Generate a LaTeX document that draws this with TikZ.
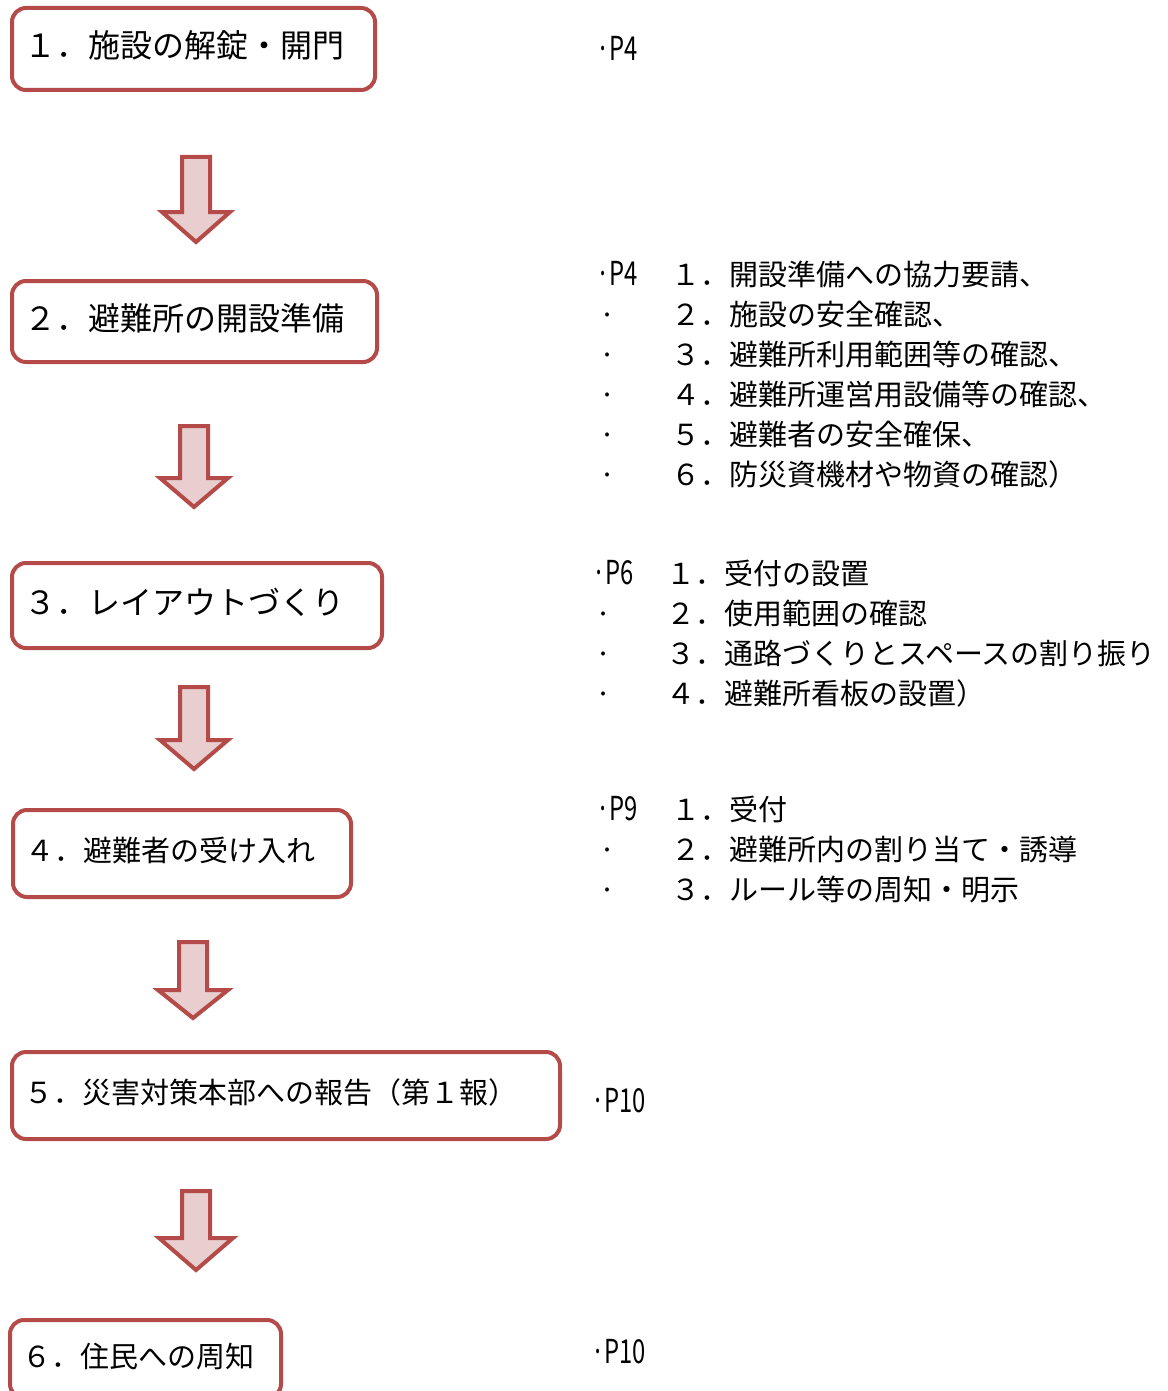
\documentclass[tikz,border=0pt]{standalone}
\usepackage{fontspec}
\usepackage{graphicx}
\setmainfont{Noto Sans CJK JP}
\definecolor{boxred}{RGB}{180,75,72}
\definecolor{arrowfill}{RGB}{232,206,206}
% block arrow: #1 centre x, #2 top y, #3 neck y, #4 tip y, #5 head half-width
\newcommand\flowarrow[5]{%
  \path[arrowshape] ({#1-14},#2) -- ({#1+14},#2) -- ({#1+14},#3) -- ({#1+#5},#3)
    -- (#1,#4) -- ({#1-#5},#3) -- ({#1-14},#3) -- cycle;}
\newcommand\pagelab[1]{\scalebox{0.72}[1]{\fontsize{33}{38}\selectfont #1}}
\begin{document}
\begin{tikzpicture}[x=1pt,y=-1pt,
  stepbox/.style={draw=boxred, line width=4pt, rounded corners=14pt, fill=white,
    anchor=north west, align=left, inner xsep=12pt, inner ysep=0pt},
  bigtext/.style={font=\fontsize{32}{38}\selectfont, text height=28pt, text depth=10pt},
  smalltext/.style={font=\fontsize{29}{35}\selectfont, text height=25.5pt, text depth=9.5pt},
  listtext/.style={anchor=west, inner sep=0pt, font=\fontsize{29}{34}\selectfont,
    text height=25.5pt, text depth=3.5pt},
  arrowshape/.style={draw=boxred, line width=4pt, fill=arrowfill, line join=miter}]
\useasboundingbox (0,0) rectangle (1167,1391);
\clip (0,0) rectangle (1167,1391);

% step boxes
\node[stepbox, bigtext, minimum width=363, minimum height=82, text width=339] (s1) at (10,6) {１．施設の解錠・開門};
\node[stepbox, bigtext, minimum width=365, minimum height=81, text width=341] (s2) at (10,279) {２．避難所の開設準備};
\node[stepbox, bigtext, minimum width=370, minimum height=85, text width=346] (s3) at (10,561) {３．レイアウトづくり};
\node[stepbox, smalltext, minimum width=338, minimum height=87, text width=314] (s4) at (11,808) {４．避難者の受け入れ};
\node[stepbox, smalltext, minimum width=548, minimum height=87, text width=524] (s5) at (10,1050) {５．災害対策本部への報告（第１報）};
\node[stepbox, smalltext, minimum width=271, minimum height=78, text width=247] (s6) at (8,1318) {６．住民への周知};

% block arrows
\flowarrow{196}{157}{212}{242}{34}
\flowarrow{194}{426}{478}{507}{34}
\flowarrow{194}{687}{740}{769}{34}
\flowarrow{193}{942}{990}{1018}{35}
\flowarrow{196}{1191}{1238}{1270}{37}

% right-hand notes
\node[listtext] (p1) at (596,50) {\pagelab{·P4}};

\node[listtext] (p2) at (596,274) {\pagelab{·P4}};
\node[listtext] (l21) at (671,274) {１．開設準備への協力要請、};
\node[listtext] (d22) at (599,314) {·};
\node[listtext] (l22) at (671,314) {２．施設の安全確認、};
\node[listtext] (d23) at (599,354) {·};
\node[listtext] (l23) at (671,354) {３．避難所利用範囲等の確認、};
\node[listtext] (d24) at (599,394) {·};
\node[listtext] (l24) at (671,394) {４．避難所運営用設備等の確認、};
\node[listtext] (d25) at (599,434) {·};
\node[listtext] (l25) at (671,434) {５．避難者の安全確保、};
\node[listtext] (d26) at (599,474) {·};
\node[listtext] (l26) at (671,474) {６．防災資機材や物資の確認）};

\node[listtext] (p3) at (592,573) {\pagelab{·P6}};
\node[listtext] (l31) at (666,573) {１．受付の設置};
\node[listtext] (d32) at (595,613) {·};
\node[listtext] (l32) at (666,613) {２．使用範囲の確認};
\node[listtext] (d33) at (595,653) {·};
\node[listtext] (l33) at (666,653) {３．通路づくりとスペースの割り振り};
\node[listtext] (d34) at (595,693) {·};
\node[listtext] (l34) at (666,693) {４．避難所看板の設置）};

\node[listtext] (p4) at (596,809) {\pagelab{·P9}};
\node[listtext] (l41) at (671,809) {１．受付};
\node[listtext] (d42) at (599,849) {·};
\node[listtext] (l42) at (671,849) {２．避難所内の割り当て・誘導};
\node[listtext] (d43) at (599,889) {·};
\node[listtext] (l43) at (671,889) {３．ルール等の周知・明示};

\node[listtext] (p5) at (591,1101) {\pagelab{·P10}};
\node[listtext] (p6) at (591,1352) {\pagelab{·P10}};
\end{tikzpicture}
\end{document}
